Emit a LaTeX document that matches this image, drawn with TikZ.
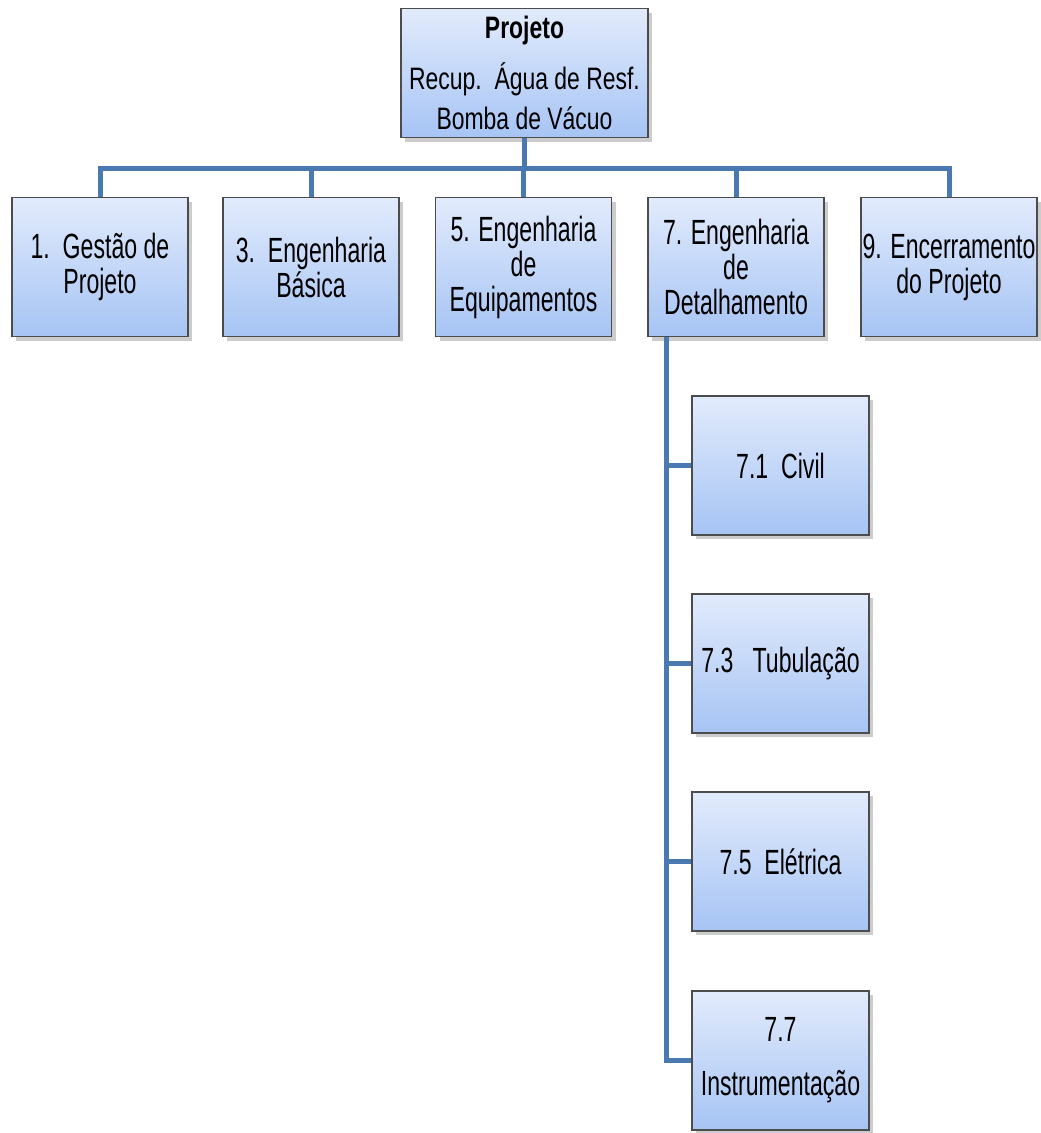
\documentclass[tikz,border=0pt]{standalone}
\usepackage{fontspec}
\newfontfamily\boxfont{Liberation Sans}[FakeStretch=0.66]
\newfontfamily\topfont{Liberation Sans}[FakeStretch=0.74]
\usetikzlibrary{shadows}
\definecolor{wbsblue}{HTML}{4A78B0}
\definecolor{wbstop}{HTML}{E2EBFC}
\definecolor{wbsbottom}{HTML}{A6C4F4}
\begin{document}
\begin{tikzpicture}
[x=1pt,y=-1pt,
 wbsbox/.style={draw=black!70,line width=1.2pt,top color=wbstop,bottom color=wbsbottom,
   minimum width=176pt,minimum height=139pt,inner sep=0pt,align=center,
   font=\boxfont\fontsize{35}{35}\selectfont,
   drop shadow={shadow xshift=4pt,shadow yshift=-4pt,fill=black!40}},
 linkdecorate/.style={draw=wbsblue,line width=5pt}]
\useasboundingbox (0,0) rectangle (1041,1133);
%% the project box
\node[wbsbox,minimum width=247pt,minimum height=129pt,
  font=\topfont\fontsize{31}{40}\selectfont] (proj) at (524.5,73)
  {\textbf{Projeto}\\[11pt]Recup.\ \ Água de Resf.\\Bomba de Vácuo};
%% first level
\foreach \name/\x/\txt in {g1/100/{1.\ \ Gestão de\\Projeto},
  g3/311/{3.\ \ Engenharia\\Básica},
  g5/523.5/{5. Engenharia\\de\\Equipamentos},
  g7/736/{7. Engenharia\\de\\Detalhamento},
  g9/949/{9. Encerramento\\do Projeto}}
{
  \node[wbsbox] (\name) at (\x,267) {\txt};
}
%% second level under 7
\foreach \name/\y/\txt in {s71/465.5/{7.1\ \ Civil},
  s73/663.5/{7.3\ \ \ Tubulação},
  s75/861.5/{7.5\ \ Elétrica},
  s77/1060.5/{7.7\\[19pt]Instrumentação}}
{
  \node[wbsbox,minimum width=177pt] (\name) at (780.5,\y) {\txt};
}
%% connectors
\coordinate (bar) at (0,168);
\draw[linkdecorate] (proj.south) -- (proj.south |- bar);
\draw[linkdecorate] (g1.north) -- (g1.north |- bar) -- (g9.north |- bar) -- (g9.north);
\foreach \name in {g3,g5,g7}
{
  \draw[linkdecorate] (\name.north |- bar) -- (\name.north);
}
\coordinate (trunk) at ([xshift=19pt]g7.south west);
\draw[linkdecorate] (trunk) |- (s77.west);
\foreach \name in {s71,s73,s75}
{
  \draw[linkdecorate] (trunk |- \name.west) -- (\name.west);
}
\end{tikzpicture}
\end{document}
